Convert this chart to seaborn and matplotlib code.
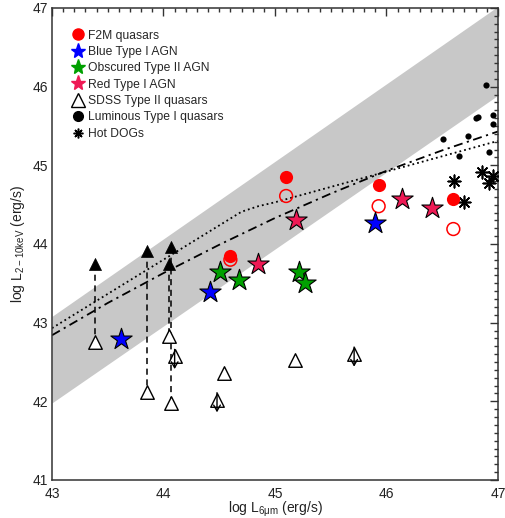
import numpy as np
import matplotlib
matplotlib.use("Agg")
import matplotlib.pyplot as plt
from matplotlib.lines import Line2D
from matplotlib.ticker import MultipleLocator
import seaborn as sns

sns.set_theme(style="white")
plt.rcParams["font.family"] = ["Liberation Sans", "DejaVu Sans"]
plt.rcParams["mathtext.default"] = "regular"

# ---- data: log L(6um) [x] and log L(2-10 keV) [y] ----
f2m_x = [45.10, 45.93, 46.60, 44.60]
f2m_y = [44.85, 44.75, 44.57, 43.85]
f2m_open_x = [45.10, 45.93, 46.60, 44.60]
f2m_open_y = [44.61, 44.48, 44.19, 43.80]

blue_x = [44.42, 45.90, 43.62]
blue_y = [43.39, 44.27, 42.79]

obsc_x = [44.51, 44.68, 45.22, 45.27]
obsc_y = [43.64, 43.54, 43.64, 43.50]

red_x = [44.85, 45.19, 46.14, 46.41]
red_y = [43.75, 44.30, 44.57, 44.46]

sdss_x = [43.39, 44.05, 43.85, 44.07, 44.54, 45.18]
sdss_y = [42.75, 42.83, 42.12, 41.98, 42.36, 42.52]
sdss_lim_x = [44.10, 44.48, 45.71]
sdss_lim_y = [42.57, 42.02, 42.60]
sdss_hi_x = [43.39, 44.05, 43.85, 44.07]
sdss_hi_y = [43.74, 43.75, 43.91, 43.96]

lum_x = [46.89, 46.80, 46.82, 46.96, 46.96, 46.73, 46.51, 46.65, 46.92]
lum_y = [46.02, 45.60, 45.62, 45.64, 45.53, 45.37, 45.33, 45.12, 45.17]

dog_x = [46.61, 46.70, 46.86, 46.92, 46.96]
dog_y = [44.80, 44.53, 44.91, 44.78, 44.86]

band_x = [43.0, 47.0]
band_lo = [41.98, 45.89]
band_hi = [43.08, 47.02]

dashdot_x = [43.0, 43.5, 44.0, 44.5, 45.0, 45.5, 46.0, 46.5, 47.0]
dashdot_y = [42.84, 43.25, 43.63, 43.99, 44.33, 44.64, 44.93, 45.19, 45.43]

dotted_x = [43.0, 44.70, 44.85, 45.0, 47.0]
dotted_y = [42.93, 44.41, 44.48, 44.53, 45.31]

# ---- figure ----
fig = plt.figure(figsize=(5.05, 5.18), dpi=100)
ax = fig.add_axes([0.103, 0.0734, 0.883, 0.9112])

ax.fill_between(band_x, band_lo, band_hi, color="#c8c8c8", lw=0, zorder=0)

sns.lineplot(x=dashdot_x, y=dashdot_y, ax=ax, color="black", lw=1.3,
             linestyle=(0, (5, 2.5, 1.2, 2.5)), sort=False, zorder=2)
sns.lineplot(x=dotted_x, y=dotted_y, ax=ax, color="black", lw=1.3,
             linestyle=(0, (1, 1.7)), sort=False, zorder=2)

# dashed connectors between detections and limits
for xh, yh, xl, yl in zip(sdss_hi_x, sdss_hi_y, sdss_x[:4], sdss_y[:4]):
    ax.plot([xh, xl], [yh, yl], color="black", lw=1.1,
            linestyle=(0, (4, 3)), zorder=2)

# SDSS type II quasars
sns.scatterplot(x=sdss_x + sdss_lim_x, y=sdss_y + sdss_lim_y, ax=ax,
                marker="^", s=95, facecolor="white", edgecolor="black",
                linewidth=1.0, zorder=3)
sns.scatterplot(x=sdss_hi_x, y=sdss_hi_y, ax=ax, marker="^", s=75,
                color="black", edgecolor="black", linewidth=0.5, zorder=3)
for x, y in zip(sdss_lim_x, sdss_lim_y):
    ax.annotate("", xy=(x, y - 0.16), xytext=(x, y + 0.09),
                arrowprops=dict(arrowstyle="->,head_length=0.35,head_width=0.2",
                                lw=1.0, color="black", shrinkA=0, shrinkB=0),
                zorder=4)

# luminous type I quasars and Hot DOGs
sns.scatterplot(x=lum_x, y=lum_y, ax=ax, marker="o", s=20, color="black",
                edgecolor="black", linewidth=0, zorder=3)
sns.scatterplot(x=dog_x, y=dog_y, ax=ax, marker=(8, 2, 0), s=80,
                color="black", edgecolor="black", linewidth=1.2, zorder=3)

# F2M quasars
ax.scatter(f2m_open_x, f2m_open_y, marker="o", s=85, facecolors="none",
           edgecolors="red", linewidths=1.1, zorder=4)
sns.scatterplot(x=f2m_x, y=f2m_y, ax=ax, marker="o", s=90, color="red",
                edgecolor="red", linewidth=0, zorder=5)

# AGN stars
star_kw = dict(marker="*", s=260, edgecolor="black", linewidth=0.8, zorder=6)
sns.scatterplot(x=blue_x, y=blue_y, ax=ax, color="#0000ff", **star_kw)
sns.scatterplot(x=obsc_x, y=obsc_y, ax=ax, color="#00a000", **star_kw)
sns.scatterplot(x=red_x, y=red_y, ax=ax, color="#ee1a55", **star_kw)

# ---- axes ----
ax.set_xlim(43, 47)
ax.set_ylim(41, 47)
ax.set_xticks([43, 44, 45, 46, 47])
ax.set_yticks([41, 42, 43, 44, 45, 46, 47])
ax.xaxis.set_minor_locator(MultipleLocator(0.1))
ax.yaxis.set_minor_locator(MultipleLocator(0.1))
ax.tick_params(which="both", direction="in", top=True, right=True,
               color="#333333", width=1.0, labelsize=10, labelcolor="#222222")
ax.tick_params(which="major", length=6)
ax.tick_params(which="minor", length=3)
ax.tick_params(axis="x", pad=5)
ax.tick_params(axis="y", pad=3)
for sp in ax.spines.values():
    sp.set_color("#333333")
    sp.set_linewidth(1.1)

ax.set_xlabel("log L$_{6μm}$ (erg/s)", fontsize=10, labelpad=-1, color="#222222")
ax.set_ylabel("log L$_{2-10keV}$ (erg/s)", fontsize=10, labelpad=4, color="#222222")

handles = [
    Line2D([], [], ls="none", marker="o", ms=8, mfc="red", mec="red"),
    Line2D([], [], ls="none", marker="*", ms=11, mfc="#0000ff", mec="#0000ff"),
    Line2D([], [], ls="none", marker="*", ms=11, mfc="#00a000", mec="#00a000"),
    Line2D([], [], ls="none", marker="*", ms=11, mfc="#ee1a55", mec="#ee1a55"),
    Line2D([], [], ls="none", marker="^", ms=10, mfc="white", mec="black", mew=1.0),
    Line2D([], [], ls="none", marker="o", ms=7, mfc="black", mec="black"),
    Line2D([], [], ls="none", marker=(8, 2, 0), ms=7, mfc="black", mec="black", mew=1.1),
]
labels = ["F2M quasars", "Blue Type I AGN", "Obscured Type II AGN",
          "Red Type I AGN", "SDSS Type II quasars",
          "Luminous Type I quasars", "Hot DOGs"]
ax.legend(handles, labels, loc="upper left", bbox_to_anchor=(0.025, 0.972),
          frameon=False, fontsize=8.7, handlelength=1.0, handletextpad=0.35,
          labelspacing=0.36, borderpad=0.2)

fig.savefig("out.png", dpi=100)
